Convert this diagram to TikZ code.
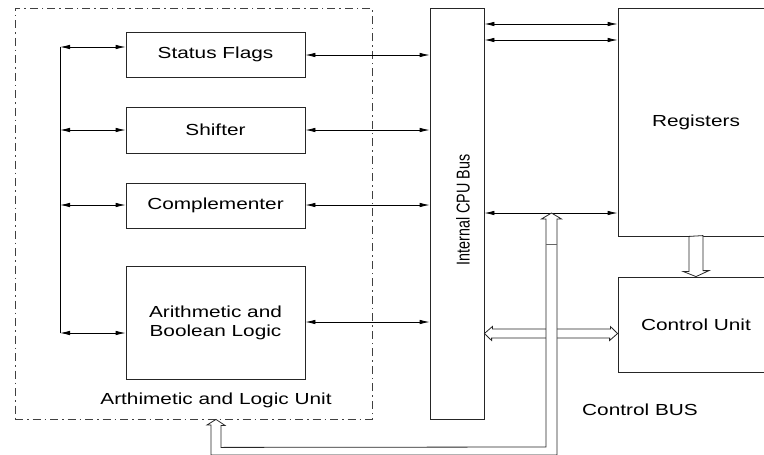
\documentclass[tikz,border=0pt]{standalone}
\usepackage{fontspec}
\setmainfont[FakeStretch = 1.3]{Liberation Sans}
\newfontfamily\busfont{Liberation Sans}
\usetikzlibrary{arrows.meta}

\begin{document}
\begin{tikzpicture}[x = 1pt, y = -1pt,
        line width = 0.8pt,
        block/.style = {draw = black!85, inner sep = 0pt, font = \fontsize{16}{19}\selectfont, align = center},
        biarrow/.style = {{Latex[length = 10pt, width = 4.5pt]}-{Latex[length = 10pt, width = 4.5pt]}},
        hollow/.style = {draw = black!85, fill = white, line join = miter}]
        \clip (0, 0) rectangle (764, 455);
        % arithmetic and logic unit
        \node[draw = black!75, dash pattern = on 8pt off 4pt on 1.5pt off 4pt, minimum width = 357pt, minimum height = 411pt] (alu) at (193.5, 213.5) {};
        \node[font = \fontsize{16}{19}\selectfont] (alulabel) at (216, 400) {Arthimetic and Logic Unit};
        \node[block, minimum width = 179pt, minimum height = 45pt] (flags) at (215.5, 54.5) {Status Flags};
        \node[block, minimum width = 179pt, minimum height = 46pt] (shift) at (215.5, 130) {Shifter};
        \node[block, minimum width = 179pt, minimum height = 45pt] (comp) at (215.5, 205.5) {Complementer};
        \node[block, minimum width = 179pt, minimum height = 113pt] (arith) at (215.5, 322.5) {Arithmetic and\\Boolean Logic};
        % bus, registers, control unit
        \node[block, minimum width = 54pt, minimum height = 411pt] (bus) at (457, 213.5) {};
        \node[inner sep = 0pt, font = \busfont\fontsize{14.3}{16}\selectfont] (buslabel) at (463, 210) {\scalebox{1.3}[1]{\rotatebox{90}{Internal CPU Bus}}};
        \node[block, minimum width = 156pt, minimum height = 228pt] (reg) at (696, 122) {Registers};
        \node[block, minimum width = 156pt, minimum height = 95pt] (cu) at (696, 324.5) {Control Unit};
        \node[font = \fontsize{16}{19}\selectfont] (cbuslabel) at (640, 410) {Control BUS};
        % single arrows
        \coordinate (spine) at (60, 0);
        \draw (spine |- 0, 47) -- (spine |- 0, 333);
        \foreach \blk/\ly in {flags/47, shift/130, comp/205, arith/333}{
            \draw[biarrow] (spine |- 0, \ly) -- (\blk.west |- 0, \ly);
        }
        \foreach \blk/\ry in {flags/55, shift/130, comp/205, arith/322}{
            \draw[biarrow] (\blk.east |- 0, \ry) -- (bus.west |- 0, \ry);
        }
        \foreach \ry in {24, 40, 213}{
            \draw[biarrow] (bus.east |- 0, \ry) -- (reg.west |- 0, \ry);
        }
        % hollow arrows
        \filldraw[hollow] (reg.south) ++(-7, 0) -- ++(0, 35) -- ++(-6, 0) -- (cu.north) -- ++(13, -6) -- ++(-6, 0) -- ++(0, -35) -- cycle;
        \filldraw[hollow] (bus.east |- 0, 333.5) -- ++(8, -7) -- ++(0, 2.5) -- ++(118, 0) -- ++(0, -2.5) -- (cu.west |- 0, 333.5) -- ++(-8, 7) -- ++(0, -2.5) -- ++(-118, 0) -- ++(0, 2.5) -- cycle;
        \filldraw[hollow] (alu.south -| 216, 0) -- ++(9, 6) -- ++(-4, 0) -- ++(0, 22) -- (546, 447) -- (546, 219) -- (541.5, 219) -- (551.5, 213) -- (561.5, 219) -- (557, 219) -- (557, 455) -- (211, 455) -- (211, 425) -- (207, 425) -- cycle;
        \draw[black!60] (546, 244) -- (557, 244);
    \end{tikzpicture}
\end{document}
